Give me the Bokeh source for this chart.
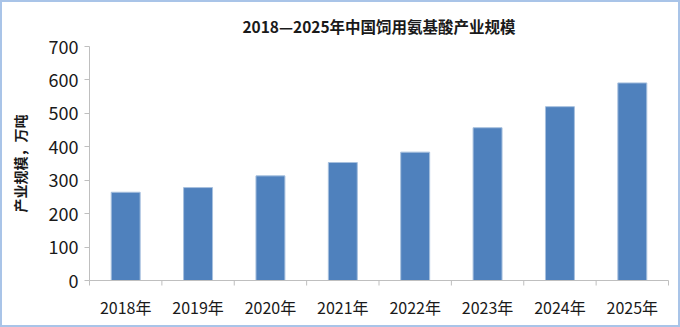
from bokeh.plotting import figure
from bokeh.embed import file_html
from bokeh.resources import INLINE
from bokeh.models import ColumnDataSource, FixedTicker, Range1d

title_text = "2018—2025年中国饲用氨基酸产业规模"
years = ["2018年", "2019年", "2020年", "2021年", "2022年", "2023年", "2024年", "2025年"]
scale = [264, 278, 313, 353, 384, 457, 520, 591]
y_ticks = [0, 100, 200, 300, 400, 500, 600, 700]

FONT = "Noto Sans CJK SC"

src = ColumnDataSource(dict(x=years, y=scale))

p = figure(width=680, height=327, x_range=years, y_range=Range1d(0, 700),
           output_backend="svg", toolbar_location=None,
           min_border_left=87, min_border_right=14, min_border_top=0, min_border_bottom=49,
           title=title_text)
p.styles = {"border": "2px solid #A9C4E8", "box-sizing": "border-box"}

p.vbar(x="x", top="y", width=0.4, source=src, fill_color="#4F81BD",
       line_color="#A7C0DE", line_width=1)

p.title.align = "center"
p.title.text_font = FONT
p.title.text_font_size = "15.5px"
p.title.text_font_style = "bold"
p.title.text_color = "#1a1a1a"
p.title.offset = 0
p.title.standoff = 20

p.xgrid.visible = False
p.ygrid.visible = False
p.outline_line_color = None

p.yaxis.ticker = FixedTicker(ticks=y_ticks)
p.yaxis.axis_line_color = "#BFBFBF"
p.yaxis.major_tick_line_color = "#BFBFBF"
p.yaxis.major_tick_in = 0
p.yaxis.major_tick_out = 5
p.yaxis.minor_tick_line_color = None
p.yaxis.major_label_text_font = FONT
p.yaxis.major_label_text_font_size = "18px"
p.yaxis.major_label_text_color = "#1a1a1a"
p.yaxis.major_label_standoff = 6
p.yaxis.axis_label = "产业规模，万吨"
p.yaxis.axis_label_text_font = FONT
p.yaxis.axis_label_text_font_size = "14px"
p.yaxis.axis_label_text_font_style = "bold"
p.yaxis.axis_label_text_color = "#1a1a1a"
p.yaxis.axis_label_standoff = 16

p.xaxis.axis_line_color = "#BFBFBF"
p.xaxis.major_tick_line_color = None
p.xaxis.major_label_text_font = FONT
p.xaxis.major_label_text_font_size = "16px"
p.xaxis.major_label_text_color = "#1a1a1a"
p.xaxis.major_label_standoff = 8

# tick marks at the category boundaries on the x axis
bx = [float(i) for i in range(len(years) + 1)]
tick_src = ColumnDataSource(dict(x0=bx, y0=[0.0] * len(bx), x1=bx, y1=[-15.0] * len(bx)))
p.segment(x0="x0", y0="y0", x1="x1", y1="y1", source=tick_src,
          line_color="#BFBFBF", line_width=1, level="overlay")

open("out.html", "w").write(file_html(p, INLINE))
